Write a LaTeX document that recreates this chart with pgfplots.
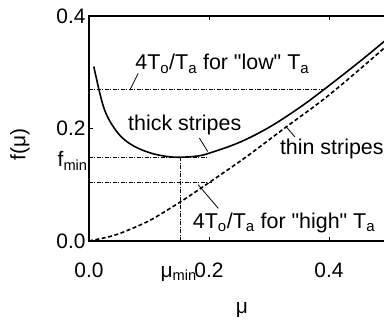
\documentclass[border=0pt]{standalone}
\usepackage{fontspec}
\setmainfont{Liberation Sans}[Ligatures=TeXOff]
\usepackage{pgfplots}
\pgfplotsset{compat=1.18}
\begin{document}
\begin{tikzpicture}
\useasboundingbox (-89bp,-79bp) rectangle (295bp,241bp);
\clip (-89bp,-79bp) rectangle (295bp,241bp);
\begin{axis}[
  at={(0bp,0bp)}, anchor=south west,
  scale only axis,
  x=600bp, y=562.5bp,
  xmin=0, xmax=0.5, ymin=0, ymax=0.4,
  clip=false,
  axis line style={line width=1.5bp},
  tick style={line width=1bp, black},
  major tick length=4bp,
  xtick={0,0.2,0.4}, xticklabels={0.0,0.2,0.4},
  ytick={0,0.2,0.4}, yticklabels={0.0,0.2,0.4},
  xticklabel style={anchor=base, yshift=-36bp},
  ticklabel style={font=\fontsize{21}{25}\selectfont},
  every axis plot/.append style={black},
]
% reference lines
\addplot[line width=0.9bp, dash pattern=on 4bp off 1.5bp on 1bp off 1.5bp] coordinates {(0,0.270) (0.39,0.270)};
\addplot[line width=0.9bp, dash pattern=on 4bp off 1.5bp on 1bp off 1.5bp] coordinates {(0,0.149) (0.20,0.149)};
\addplot[line width=0.9bp, dash pattern=on 4bp off 1.5bp on 1bp off 1.5bp] coordinates {(0,0.104) (0.205,0.104)};
\addplot[line width=0.9bp, dash pattern=on 4bp off 1.5bp on 1bp off 1.5bp] coordinates {(0.152,0) (0.152,0.149)};
% thick stripes
\addplot[line width=1.6bp, smooth, tension=0.6] coordinates {
(0.008,0.310) (0.018,0.263) (0.026,0.233) (0.037,0.209) (0.054,0.185)
(0.076,0.168) (0.104,0.156) (0.132,0.150) (0.154,0.149) (0.18,0.151)
(0.20,0.156) (0.25,0.175) (0.30,0.202) (0.35,0.2365) (0.39,0.268)
(0.45,0.318) (0.50,0.362)};
% thin stripes
\addplot[line width=1.6bp, smooth, tension=0.5, dash pattern=on 4bp off 2.5bp] coordinates {
(0,0) (0.035,0.008) (0.06,0.017) (0.102,0.037) (0.153,0.070) (0.199,0.103)
(0.26,0.148) (0.329,0.203) (0.39,0.251) (0.44,0.295) (0.492,0.343) (0.51,0.360)};
% leader lines
\addplot[line width=0.8bp] coordinates {(0.068,0.268) (0.082,0.298)};
\addplot[line width=0.8bp] coordinates {(0.184,0.183) (0.198,0.159)};
\addplot[line width=0.8bp] coordinates {(0.343,0.185) (0.328,0.204)};
\addplot[line width=0.8bp] coordinates {(0.2155,0.058) (0.182,0.100)};
% annotations
\node[anchor=base west, inner sep=0pt, font=\fontsize{21.5}{25}\selectfont] at (axis cs:0.077,0.304) {4T\textsubscript{o}/T\textsubscript{a} for "low" T\textsubscript{a}};
\node[anchor=base west, inner sep=0pt, font=\fontsize{21.5}{25}\selectfont] at (axis cs:0.065,0.197) {thick stripes};
\node[anchor=base west, inner sep=0pt, font=\fontsize{21.5}{25}\selectfont] at (axis cs:0.318,0.153) {thin stripes};
\node[anchor=base west, inner sep=0pt, font=\fontsize{21.5}{25}\selectfont] at (axis cs:0.173,0.023) {4T\textsubscript{o}/T\textsubscript{a} for "high" T\textsubscript{a}};
% special tick labels and axis labels
\node[anchor=base east, inner sep=0pt, font=\fontsize{21}{25}\selectfont] at (axis cs:-0.002,0.132) {f\textsubscript{min}};
\node[anchor=base east, inner sep=0pt, font=\fontsize{21}{25}\selectfont, yshift=-36bp] at (axis cs:0.18,0) {μ\textsubscript{min}};
\node[anchor=base, inner sep=0pt, font=\fontsize{21}{25}\selectfont] at (axis cs:0.255,-0.128) {μ};
\node[rotate=90, anchor=center, inner sep=0pt, font=\fontsize{21}{25}\selectfont] at (axis cs:-0.115,0.171) {f(μ)};
\end{axis}
\end{tikzpicture}
\end{document}
